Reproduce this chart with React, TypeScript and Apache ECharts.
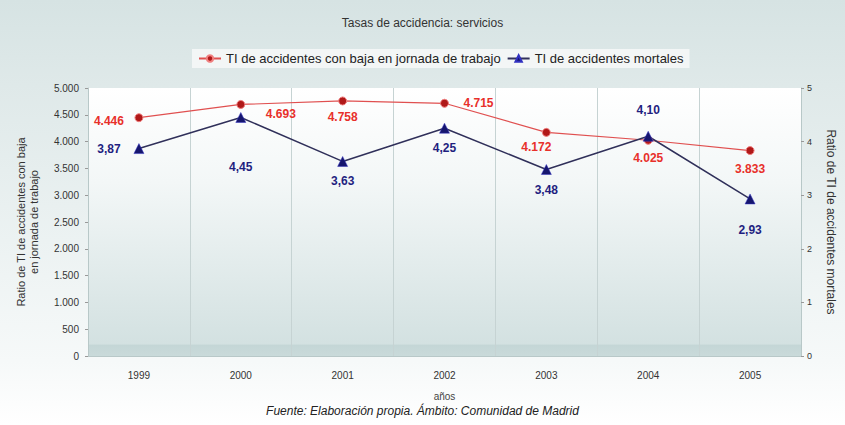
import React, { useEffect, useRef } from "react";
import * as echarts from "echarts";

const title = "Tasas de accidencia: servicios";
const categories = ["1999", "2000", "2001", "2002", "2003", "2004", "2005"];
const seriesNames = ["TI de accidentes con baja en jornada de trabajo", "TI de accidentes mortales"];
const bajaValues = [4446, 4693, 4758, 4715, 4172, 4025, 3833];
const mortalesValues = [3.87, 4.45, 3.63, 4.25, 3.48, 4.1, 2.93];
const leftAxisName = "Ratio de TI de accidentes con baja\nen jornada de trabajo";
const rightAxisName = "Ratio de TI de accidentes mortales";
const xAxisName = "años";
const footer = "Fuente: Elaboración propia. Ámbito: Comunidad de Madrid";

const bajaOffsets: number[][] = [[-30, 3], [40, 10], [0, 16], [34, 0], [-10, 15], [0, 18], [0, 18]];
const mortOffsets: number[][] = [[-30, 0], [0, 50], [0, 20], [0, 20], [0, 21], [0, -26], [0, 31]];

const fmtThousands = (v: number) => {
  const s = Math.round(v).toString();
  return s.replace(/\B(?=(\d{3})+(?!\d))/g, ".");
};
const fmtComma = (v: number) => v.toFixed(2).replace(".", ",");

export default function App() {
  const ref = useRef<HTMLDivElement>(null);
  useEffect(() => {
    document.body.style.margin = "0";
    const chart = echarts.init(ref.current!, null, { renderer: "svg" });
    const font = "Arial, 'Liberation Sans', sans-serif";
    chart.setOption({
      animation: false,
      backgroundColor: new echarts.graphic.LinearGradient(0, 0, 0, 1, [
        { offset: 0, color: "#d6e3e3" },
        { offset: 0.2, color: "#dfe9e9" },
        { offset: 0.85, color: "#f6f9f9" },
        { offset: 1, color: "#ffffff" },
      ]),
      textStyle: { fontFamily: font },
      title: {
        text: title,
        left: "center",
        top: 12,
        textStyle: { fontSize: 12, fontWeight: "normal", color: "#333", fontFamily: font },
      },
      legend: {
        top: 49,
        left: 192,
        itemGap: 6,
        itemWidth: 22,
        itemHeight: 8,
        backgroundColor: "#f3f6f6",
        padding: [3, 6],
        textStyle: { fontSize: 13, color: "#222", fontFamily: font },
        data: [seriesNames[0], seriesNames[1]],
      },
      grid: {
        left: 88,
        right: 37,
        top: 88,
        bottom: 69,
        show: true,
        borderWidth: 0,
        backgroundColor: new echarts.graphic.LinearGradient(0, 0, 0, 1, [
          { offset: 0, color: "#ffffff" },
          { offset: 0.35, color: "#f3f7f7" },
          { offset: 0.955, color: "#d3e1e1" },
          { offset: 0.96, color: "#c4d6d6" },
          { offset: 1, color: "#c9dada" },
        ]),
      },
      xAxis: {
        type: "category",
        data: categories,
        boundaryGap: true,
        name: xAxisName,
        nameLocation: "middle",
        nameGap: 35,
        nameTextStyle: { fontSize: 10, color: "#444" },
        axisLine: { lineStyle: { color: "#b8c8c8" } },
        axisTick: { show: false },
        axisLabel: { fontSize: 10, color: "#333", margin: 14 },
        splitLine: { show: true, lineStyle: { color: "#c6d3d3", width: 1 } },
      },
      yAxis: [
        {
          type: "value",
          min: 0,
          max: 5000,
          interval: 500,
          name: leftAxisName,
          nameLocation: "middle",
          nameGap: 48,
          nameTextStyle: { fontSize: 11, color: "#333", lineHeight: 13 },
          axisLine: { show: true, lineStyle: { color: "#b8c8c8" } },
          axisTick: { show: true, length: 3, lineStyle: { color: "#999" } },
          axisLabel: { fontSize: 10, color: "#333", formatter: (v: number) => fmtThousands(v), margin: 9 },
          splitLine: { show: false },
        },
        {
          type: "value",
          min: 0,
          max: 5,
          interval: 1,
          name: rightAxisName,
          nameLocation: "middle",
          nameGap: 24,
          nameRotate: -90,
          nameTextStyle: { fontSize: 12, color: "#333" },
          axisLine: { show: true, lineStyle: { color: "#b8c8c8" } },
          axisTick: { show: true, length: 3, lineStyle: { color: "#999" } },
          axisLabel: { fontSize: 9, color: "#333", margin: 6 },
          splitLine: { show: false },
        },
      ],
      series: [
        {
          name: seriesNames[0],
          type: "line",
          yAxisIndex: 0,
          symbol: "circle",
          symbolSize: 8,
          itemStyle: { color: "#b01818", borderColor: "#f08080", borderWidth: 1 },
          lineStyle: { color: "#e05050", width: 1.2 },
          data: bajaValues.map((v, i) => ({
            value: v,
            label: {
              show: true,
              position: "inside",
              offset: bajaOffsets[i],
              formatter: () => fmtThousands(v),
              color: "#e8302a",
              fontSize: 12,
              fontWeight: "bold",
              fontFamily: font,
            },
          })),
        },
        {
          name: seriesNames[1],
          type: "line",
          yAxisIndex: 1,
          symbol: "triangle",
          symbolSize: 10,
          itemStyle: { color: "#16166e", borderColor: "#3030c0", borderWidth: 0.5 },
          lineStyle: { color: "#30305a", width: 1.5 },
          data: mortalesValues.map((v, i) => ({
            value: v,
            label: {
              show: true,
              position: "inside",
              offset: mortOffsets[i],
              formatter: () => fmtComma(v),
              color: "#1f1f80",
              fontSize: 12,
              fontWeight: "bold",
              fontFamily: font,
            },
          })),
        },
      ],
      graphic: [
        {
          type: "text",
          left: "center",
          top: 405,
          style: {
            text: footer,
            fontSize: 12,
            fontStyle: "italic",
            fill: "#222",
            fontFamily: font,
          },
        },
      ],
    });
    return () => chart.dispose();
  }, []);
  return <div ref={ref} style={{ width: 845, height: 425 }} />;
}
